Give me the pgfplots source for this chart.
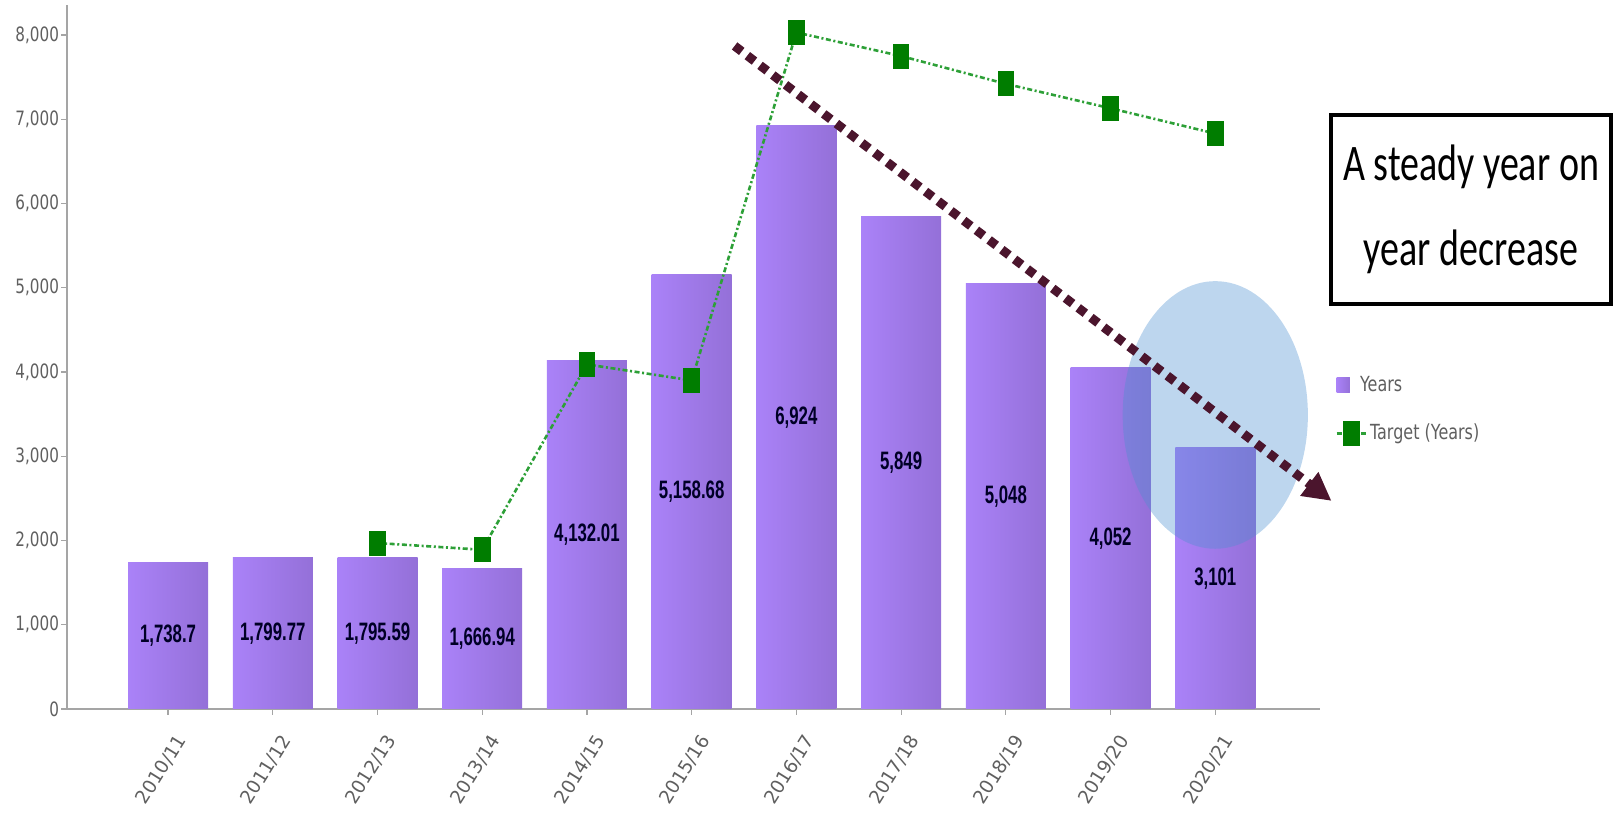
\documentclass[border=0pt]{standalone}
\usepackage{pgfplots}
\pgfplotsset{compat=1.18}
\usepackage{pgfplotstable}
\usepackage{graphicx}
\usepackage{fontspec}
\setmainfont{DejaVu Sans}
\newfontfamily\boxfont{Carlito}
\newfontfamily\labfont{Liberation Sans}
\usetikzlibrary{arrows.meta}

\definecolor{barL}{RGB}{170,130,248}
\definecolor{barR}{RGB}{148,112,216}
\definecolor{tgtline}{RGB}{45,160,55}
\definecolor{tgtmark}{RGB}{0,125,0}
\definecolor{arrowc}{RGB}{75,21,45}
\definecolor{ellc}{RGB}{76,143,208}
\definecolor{tickgray}{RGB}{95,95,95}
\definecolor{axgray}{RGB}{165,165,165}

\pgfplotsset{
  barsty/.style={ybar, bar width=40pt, draw=none, left color=barL, right color=barR},
  barlegend/.style={legend image code/.code={\fill[barL!70!barR] (0pt,-3.9pt) rectangle (6.5pt,3.9pt);}},
  linelegend/.style={legend image code/.code={\draw[##1, mark repeat=2, mark phase=2] plot coordinates {(0pt,0pt) (7.25pt,0pt) (14.5pt,0pt)};}},
}

\pgfplotstableread{
x y lab
0 1738.7 1,738.7
1 1799.77 1,799.77
2 1795.59 1,795.59
3 1666.94 1,666.94
4 4132.01 4,132.01
5 5158.68 5,158.68
6 6924 6,924
7 5849 5,849
8 5048 5,048
9 4052 4,052
10 3101 3,101
}\years

\pgfplotstableread{
x y
2 1970
3 1890
4 4090
5 3900
6 8030
7 7750
8 7420
9 7130
10 6830
}\target

\begin{document}
\begin{tikzpicture}
\path[use as bounding box] (-33.5pt,-52pt) rectangle (773.5pt,354.5pt);
\begin{axis}[
  at={(0pt,0pt)}, anchor=south west,
  scale only axis, width=626.5pt, height=352pt,
  xmin=-0.965, xmax=11.0, ymin=0, ymax=8356,
  axis x line=bottom, axis y line=left,
  axis line style={-, draw=axgray, line width=1pt},
  xtick={0,...,10},
  xticklabels={2010/11,2011/12,2012/13,2013/14,2014/15,2015/16,2016/17,2017/18,2018/19,2019/20,2020/21},
  ytick={0,1000,...,8000},
  scaled y ticks=false,
  tick align=outside,
  major tick length=2.8pt,
  tick style={draw=axgray, line width=0.6pt},
  yticklabel={\scalebox{1}[1.3]{\pgfmathprintnumber{\tick}}},
  yticklabel style={font=\fontsize{7.6}{9}\selectfont, text=tickgray, inner sep=1pt,
    /pgf/number format/assume math mode=true,
    /pgf/number format/1000 sep={,}},
  xticklabel style={xshift=3.5pt, yshift=-9pt, rotate=58, anchor=north east, inner sep=0pt,
    font=\fontsize{9.3}{10}\selectfont, text=tickgray},
  clip=false,
  legend style={at={(1.012,0.478)}, anchor=north west, draw=none, fill=none, inner sep=0pt,
    font=\fontsize{8}{9.5}\selectfont, text=tickgray, row sep=12pt,
    nodes={inner sep=1.5pt}},
  legend cell align=left,
]
\addplot[barsty, barlegend] coordinates {(0,1738.7)};
\addlegendentry{\hspace*{-5pt}\scalebox{1}[1.3]{Years}}
\addplot[barsty, forget plot] coordinates {(1,1799.77)};
\addplot[barsty, forget plot] coordinates {(2,1795.59)};
\addplot[barsty, forget plot] coordinates {(3,1666.94)};
\addplot[barsty, forget plot] coordinates {(4,4132.01)};
\addplot[barsty, forget plot] coordinates {(5,5158.68)};
\addplot[barsty, forget plot] coordinates {(6,6924)};
\addplot[barsty, forget plot] coordinates {(7,5849)};
\addplot[barsty, forget plot] coordinates {(8,5048)};
\addplot[barsty, forget plot] coordinates {(9,4052)};
\addplot[barsty, forget plot] coordinates {(10,3101)};

\addplot[color=tgtline, line width=1.3pt, dash pattern=on 2.5pt off 1.3pt on 1pt off 1.3pt,
  mark=square*, mark size=3.5pt, mark options={solid, fill=tgtmark, draw=tgtmark, yscale=1.6}, linelegend]
  table[x=x, y=y] {\target};
\addlegendentry{\scalebox{1}[1.3]{Target (Years)}}

\addplot[draw=none, mark=none, forget plot, point meta=explicit symbolic,
  nodes near coords={\scalebox{1}[1.5]{\labfont\bfseries\fontsize{8.4}{9}\selectfont\pgfplotspointmeta}},
  nodes near coords style={anchor=center, text=black!85!blue}]
  table[x=x, y expr=\thisrow{y}/2, meta=lab] {\years};

\fill[ellc, opacity=0.37] (axis cs:10,3490) ellipse [x radius=46.3pt, y radius=66.9pt];
\draw[arrowc, line width=4.5pt, dash pattern=on 4.5pt off 3.5pt,
  -{Triangle[length=14pt, width=14pt]}] (axis cs:5.41,7870) -- (axis cs:11.11,2470);
\end{axis}
\node[draw=black, line width=1.6pt, minimum width=140pt, minimum height=94.5pt,
  inner sep=0pt, fill=white] at (702pt,249.75pt)
  {\scalebox{1}[1.35]{\parbox{136pt}{\centering\boxfont\fontsize{19}{31.5}\selectfont A steady year on\\year decrease}}};
\end{tikzpicture}
\end{document}
